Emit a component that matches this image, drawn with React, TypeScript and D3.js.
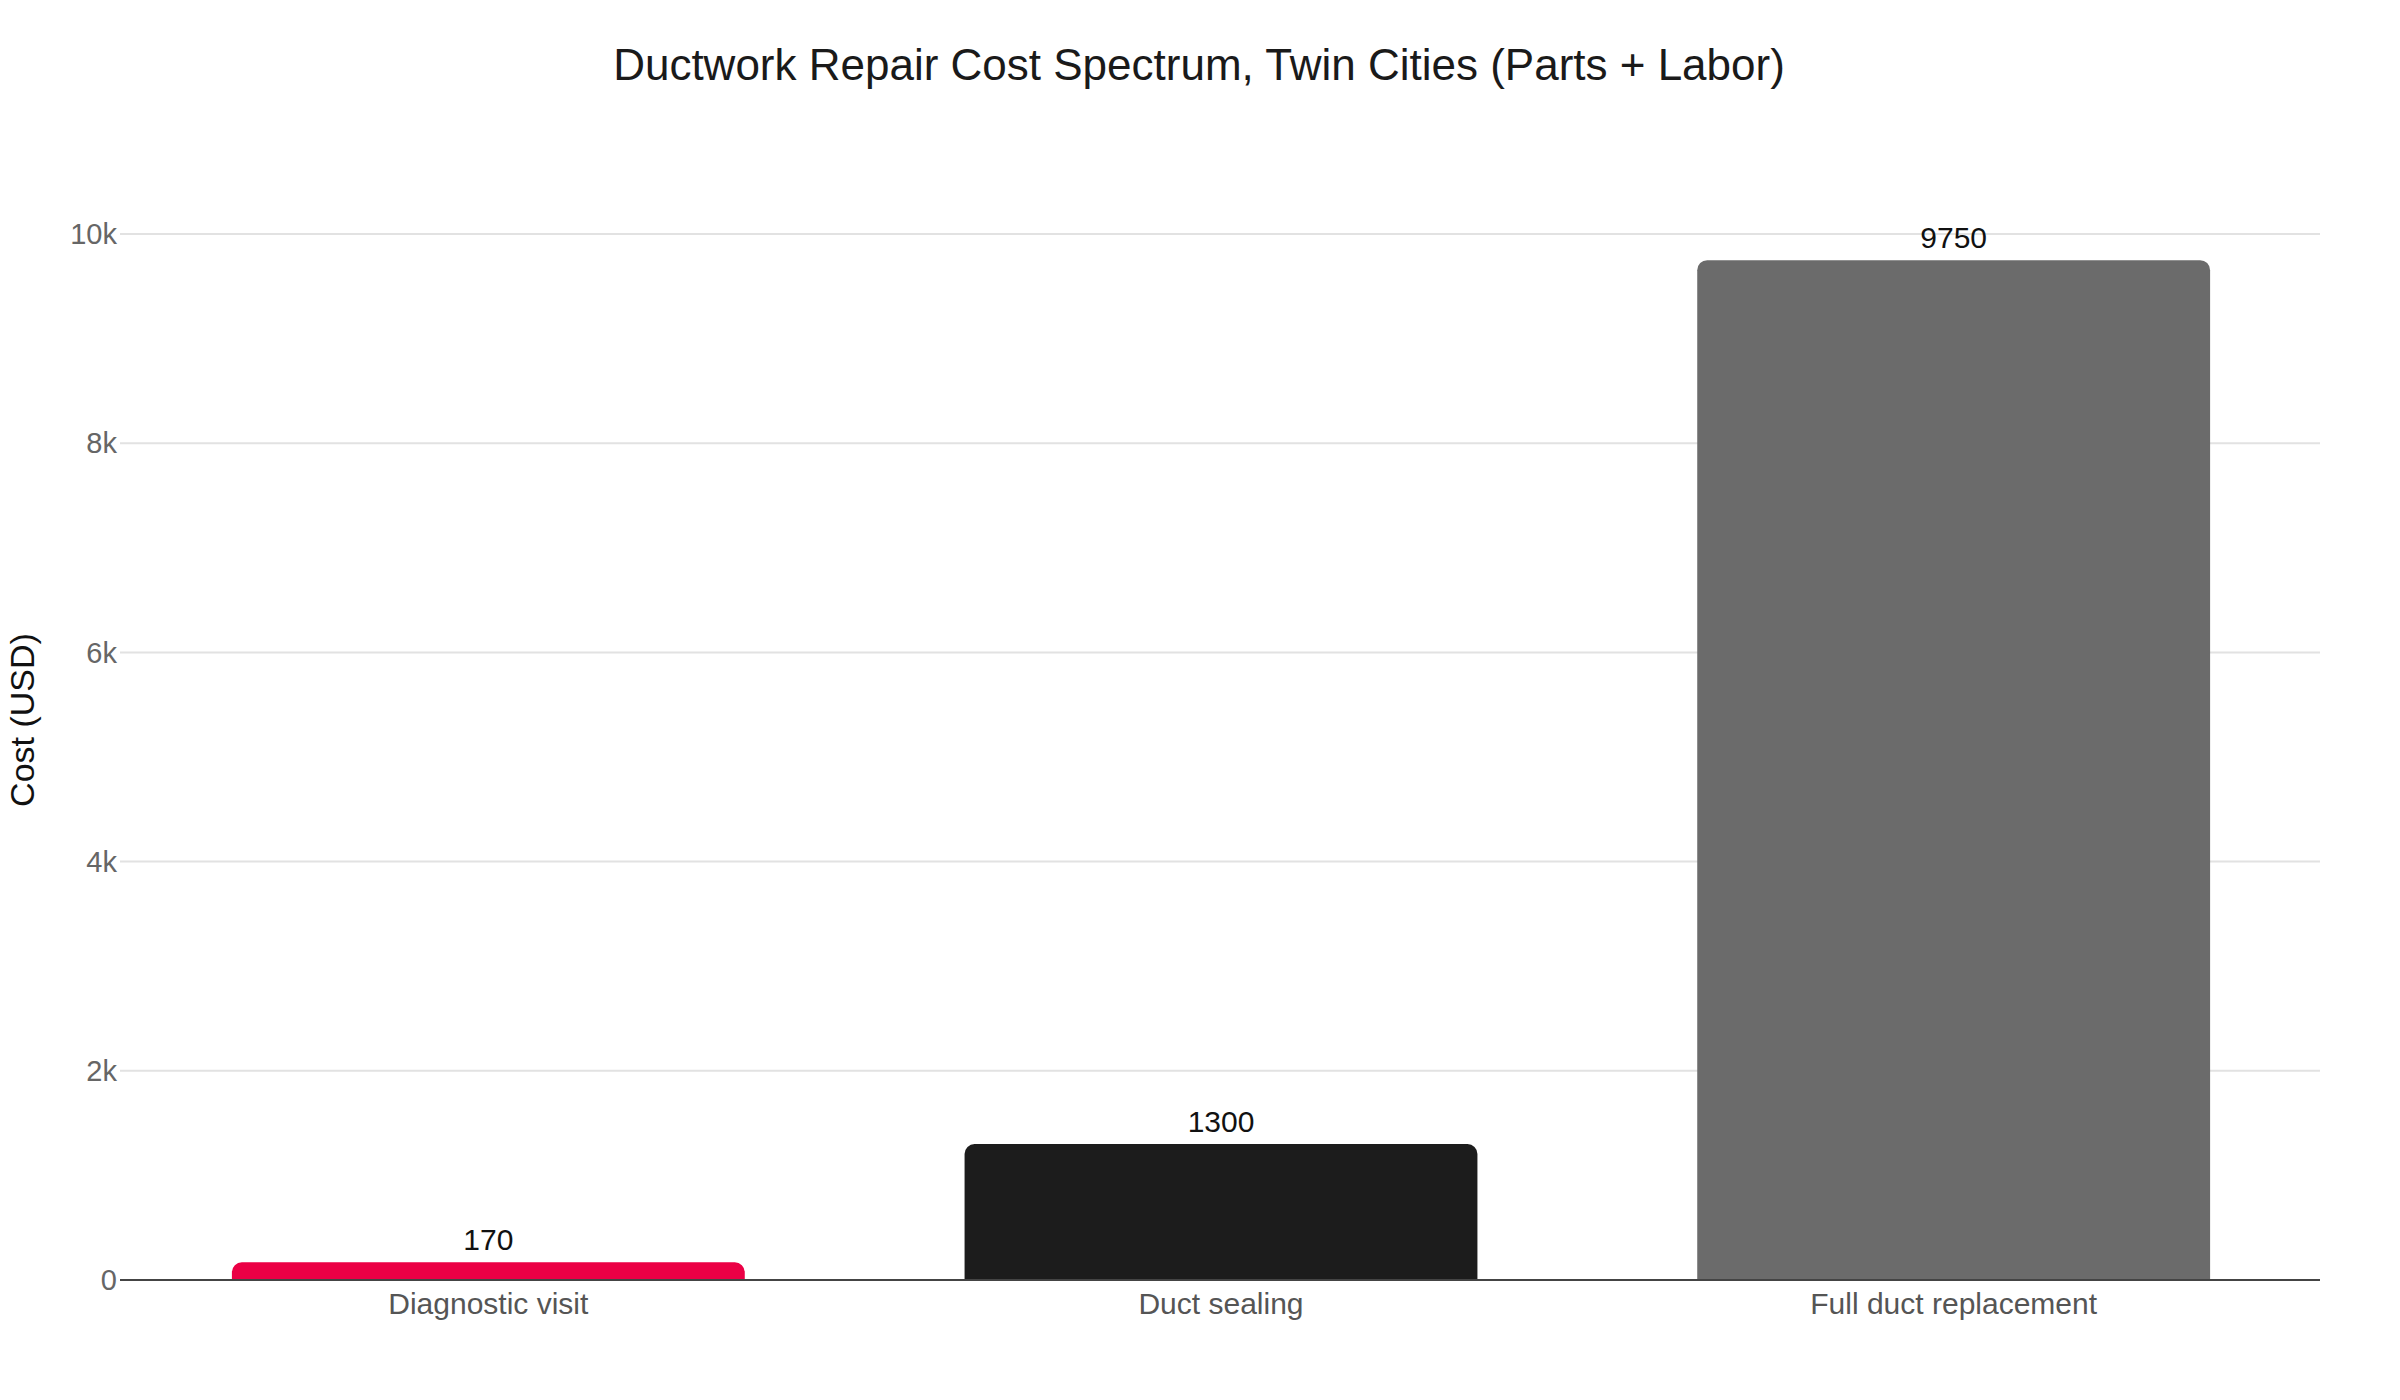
import React, { useEffect } from "react";
import * as d3 from "d3";

const categories = ["Diagnostic visit", "Duct sealing", "Full duct replacement"];
const costs = [170, 1300, 9750];
const barColors = ["#EB0045", "#1C1C1C", "#6B6B6B"];
const yTicks = [0, 2000, 4000, 6000, 8000, 10000];

const W = 2400;
const H = 1400;
const left = 122;
const right = 2320;
const bottom = 1280;
const top10k = 234;
const font = "'Liberation Sans', Arial, Helvetica, sans-serif";

function topRoundedBar(x: number, y: number, w: number, h: number, r: number) {
  const rr = Math.min(r, h, w / 2);
  const p = d3.path();
  p.moveTo(x, y + h);
  p.lineTo(x, y + rr);
  p.arcTo(x, y, x + rr, y, rr);
  p.lineTo(x + w - rr, y);
  p.arcTo(x + w, y, x + w, y + rr, rr);
  p.lineTo(x + w, y + h);
  p.closePath();
  return p.toString();
}

export default function App() {
  useEffect(() => {
    document.body.style.margin = "0";
    document.body.style.background = "#fff";
  }, []);

  const x = d3.scaleBand<string>().domain(categories).range([left, right]).paddingInner(0.3).paddingOuter(0.15);
  const y = d3.scaleLinear().domain([0, 10000]).range([bottom, top10k]);
  const fmt = d3.format("~s");

  return (
    <svg width={W} height={H} viewBox={`0 0 ${W} ${H}`} style={{ display: "block", background: "#fff" }}>
      <text x={1199} y={80} textAnchor="middle" fontFamily={font} fontSize={44} fill="#1a1a1a">
        Ductwork Repair Cost Spectrum, Twin Cities (Parts + Labor)
      </text>
      {yTicks.map((t) =>
        t === 0 ? null : (
          <line key={"g" + t} x1={left - 2} x2={right} y1={y(t)} y2={y(t)} stroke="#E2E2E2" strokeWidth={2} />
        )
      )}
      {yTicks.map((t) => (
        <text
          key={"t" + t}
          x={left - 5}
          y={y(t)}
          dy="0.35em"
          textAnchor="end"
          fontFamily={font}
          fontSize={29}
          fill="#666"
        >
          {fmt(t)}
        </text>
      ))}
      {categories.map((c, i) => {
        const bx = x(c)!;
        const bw = x.bandwidth();
        const by = y(costs[i]);
        return (
          <g key={c}>
            <path d={topRoundedBar(bx, by, bw, bottom - by, 10)} fill={barColors[i]} />
            <text
              x={bx + bw / 2}
              y={by - 12}
              textAnchor="middle"
              fontFamily={font}
              fontSize={30}
              fill="#111"
            >
              {costs[i]}
            </text>
            <text
              x={bx + bw / 2}
              y={bottom + 34}
              textAnchor="middle"
              fontFamily={font}
              fontSize={30}
              fill="#555"
            >
              {c}
            </text>
          </g>
        );
      })}
      <line x1={left - 2} x2={right} y1={bottom} y2={bottom} stroke="#444" strokeWidth={2} />
      <text
        transform={`translate(34, 720) rotate(-90)`}
        textAnchor="middle"
        fontFamily={font}
        fontSize={34}
        fill="#111"
      >
        Cost (USD)
      </text>
    </svg>
  );
}
